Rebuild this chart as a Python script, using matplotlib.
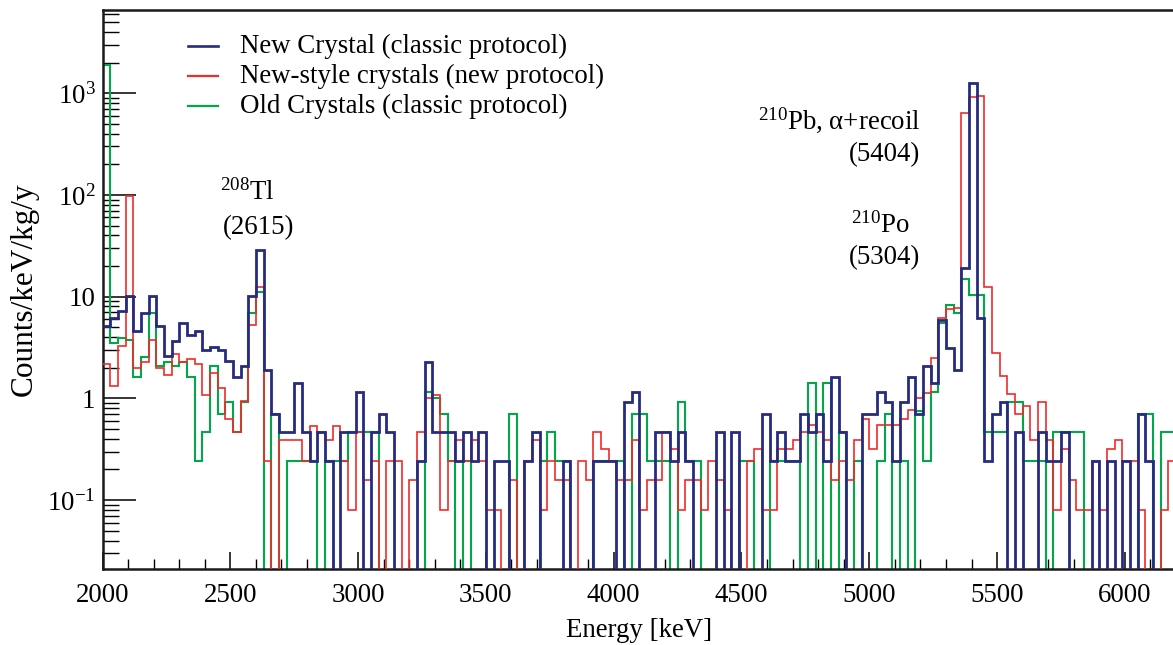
import numpy as np
import matplotlib
matplotlib.use("Agg")
import matplotlib.pyplot as plt
from matplotlib.ticker import FixedLocator, NullFormatter, LogLocator, FixedFormatter

plt.rcParams['font.family'] = ['Liberation Serif', 'DejaVu Serif']
plt.rcParams['mathtext.fontset'] = 'custom'
plt.rcParams['mathtext.rm'] = 'Liberation Serif'
plt.rcParams['mathtext.it'] = 'Liberation Serif:italic'
plt.rcParams['mathtext.bf'] = 'Liberation Serif:bold'
plt.rcParams['mathtext.default'] = 'regular'

# 30 keV bins from 2000 to 6200 keV
energy_edges = np.arange(2000, 6201, 30)

# Rates in counts/keV/kg/y, one value per bin
new_crystal_classic = [
    5.1, 6.2, 7.3, 10.2, 4.6, 6.9, 10.2, 5.1, 2.6, 3.7,
    5.5, 4.2, 4.6, 3.0, 3.2, 3.0, 2.35, 1.63, 2.1, 10.2,
    29, 1.9, 0.70, 0.47, 0.47, 1.4, 0.47, 0.24, 0.47, 0.24,
    0, 0.47, 0.47, 1.16, 0, 0.47, 0.70, 0.47, 0, 0,
    0, 0.24, 2.3, 0.47, 0.47, 0.47, 0.24, 0.47, 0.24, 0.47,
    0, 0.24, 0.24, 0, 0, 0.24, 0.47, 0, 0, 0,
    0.24, 0, 0, 0, 0.24, 0.24, 0.24, 0, 0.93, 1.16,
    0, 0, 0.47, 0.47, 0.24, 0.47, 0.24, 0, 0, 0,
    0.47, 0, 0.47, 0, 0, 0, 0.70, 0.24, 0.47, 0.24,
    0.24, 0.70, 0.47, 0.70, 0.24, 1.63, 0.47, 0, 0, 0.70,
    0.70, 1.16, 0.93, 0.24, 0.93, 1.63, 0.70, 2.1, 1.4, 5.9,
    3.1, 1.9, 19, 1250, 6.1, 0.24, 0.70, 0.93, 0, 0.47,
    0, 0, 0.47, 0.24, 0.24, 0.47, 0, 0, 0, 0.24,
    0, 0.24, 0, 0.24, 0, 0.70, 0.24, 0, 0, 0,
]

new_style_new_protocol = [
    2.16, 1.32, 3.3, 98, 2.0, 2.3, 3.75, 2.0, 1.7, 2.7,
    2.3, 2.45, 2.16, 1.09, 1.76, 1.25, 0.62, 0.47, 0.95, 5.3,
    12.5, 0.24, 0, 0.39, 0.39, 0.39, 0.24, 0.54, 0.47, 0.39,
    0.54, 0.24, 0.08, 0.47, 0.157, 0.24, 0, 0.24, 0.24, 0,
    0.157, 0.47, 1.0, 1.08, 0.08, 0.24, 0.39, 0.24, 0.39, 0.24,
    0.08, 0.08, 0, 0.157, 0, 0.24, 0.39, 0.08, 0.24, 0.157,
    0.157, 0, 0.24, 0.157, 0.47, 0.32, 0.24, 0.157, 0.157, 0.39,
    0.08, 0.157, 0.157, 0.47, 0.32, 0.08, 0.157, 0.157, 0.08, 0.24,
    0.157, 0.08, 0, 0, 0.24, 0.32, 0.08, 0.08, 0.32, 0.32,
    0.39, 0.47, 0.55, 0.47, 0.39, 0.157, 0.24, 0.157, 0.39, 0.62,
    0.32, 0.55, 0.55, 0.55, 0.62, 0.77, 1.0, 1.12, 2.47, 6.2,
    7.5, 7.8, 640, 920, 930, 12.5, 2.8, 1.65, 1.1, 0.70,
    0.84, 0.39, 0.93, 0.39, 0.08, 0.32, 0.157, 0.08, 0.08, 0.24,
    0.08, 0.32, 0.39, 0.24, 0.24, 0.08, 0, 0, 0.08, 0.24,
]

old_crystals_classic = [
    1900, 3.5, 3.9, 3.75, 1.63, 2.57, 6.9, 2.1, 2.3, 2.1,
    2.3, 1.63, 0.24, 0.47, 2.1, 0.70, 0.93, 0.47, 0.93, 6.9,
    11, 0, 0.70, 0, 0.24, 0.24, 0.24, 0.24, 0, 0.24,
    0.24, 0.24, 0.47, 0.47, 0.47, 0.47, 0, 0, 0, 0,
    0, 0, 1.16, 1.0, 0.70, 0.24, 0, 0.24, 0, 0,
    0, 0, 0, 0.70, 0, 0, 0, 0.24, 0.47, 0.24,
    0.24, 0, 0, 0, 0.24, 0.24, 0.24, 0.24, 0, 0.70,
    0.70, 0.24, 0.24, 0.24, 0, 0.93, 0.24, 0.24, 0, 0,
    0, 0, 0, 0.24, 0.24, 0, 0, 0.24, 0.24, 0.24,
    0.24, 0, 1.4, 0, 1.4, 0, 0.47, 0, 0.24, 0,
    0, 0.24, 0.70, 0, 0.24, 0, 0.75, 0.24, 1.16, 5.5,
    8.3, 6.9, 15, 10.4, 10.4, 0.47, 0.47, 0.47, 0.93, 0.93,
    0.24, 0.24, 0.24, 0, 0.47, 0.47, 0.47, 0.47, 0, 0,
    0, 0, 0, 0, 0, 0.70, 0.70, 0, 0.47, 0.47,
]

series_labels = [
    "New Crystal (classic protocol)",
    "New-style crystals (new protocol)",
    "Old Crystals (classic protocol)",
]
series_colors = ["#272b7f", "#f22a2a", "#00a84a"]

W, H = 1173, 645
fig = plt.figure(figsize=(W / 100, H / 100), dpi=100)
ax = fig.add_axes([102.5 / W, (H - 569) / H, (1176 - 102.5) / W, (569 - 10) / H])

y_floor = 1e-4  # empty bins fall below the visible range


def draw(values, color, lw, z):
    v = np.asarray(values, dtype=float)
    v = np.where(v > 0, v, y_floor)
    ax.stairs(v, energy_edges, baseline=None, color=color, lw=lw, zorder=z)


draw(old_crystals_classic, series_colors[2], 1.5, 2)
draw(new_style_new_protocol, series_colors[1], 1.2, 3)
draw(new_crystal_classic, series_colors[0], 2.0, 4)

ax.set_yscale("log")
ax.set_xlim(2000, 6200)
ax.set_ylim(0.021, 6580)

FS = 19.4
ax.xaxis.set_major_locator(FixedLocator(np.arange(2000, 6001, 500)))
ax.xaxis.set_minor_locator(FixedLocator(np.arange(2000, 6201, 100)))
ax.yaxis.set_major_locator(FixedLocator([0.1, 1, 10, 100, 1000]))
ax.yaxis.set_major_formatter(FixedFormatter(["$10^{-1}$", "1", "10", "$10^{2}$", "$10^{3}$"]))
ax.yaxis.set_minor_locator(LogLocator(base=10, subs=np.arange(2, 10), numticks=20))
ax.yaxis.set_minor_formatter(NullFormatter())

ax.tick_params(axis="x", which="major", direction="in", length=12, width=1.1,
               labelsize=FS, pad=10, top=False)
ax.tick_params(axis="x", which="minor", direction="in", length=7, width=1.0, top=False)
ax.tick_params(axis="y", which="major", direction="in", length=23.5, width=1.1,
               labelsize=FS, pad=5, right=False)
ax.tick_params(axis="y", which="minor", direction="in", length=11.5, width=1.0, right=False)

for s in ax.spines.values():
    s.set_linewidth(1.8)
    s.set_color("#1a1a1a")

ax.set_xlabel("Energy [keV]", fontsize=FS, labelpad=7.5)
ax.set_ylabel("Counts/keV/kg/y", fontsize=22.5, labelpad=6)

# Legend drawn as short line samples with labels
for i, (lab, col) in enumerate(zip(series_labels, series_colors)):
    yc = 46 + 30 * i
    fig.add_artist(plt.Line2D([188 / W, 218 / W], [1 - yc / H, 1 - yc / H],
                              color=col, lw=1.6 if i else 1.9))
    fig.text(240 / W, 1 - yc / H, lab, fontsize=FS, va="center", ha="left")

# Peak annotations
fig.text(247 / W, 1 - 192 / H, "$^{208}$Tl", fontsize=FS, ha="center", va="center")
fig.text(259 / W, 1 - 228 / H, "(2615)", fontsize=FS, ha="center", va="center")
fig.text(921 / W, 1 - 120 / H, "$^{210}$Pb, α+recoil", fontsize=FS, ha="right", va="center")
fig.text(884 / W, 1 - 155 / H, "(5404)", fontsize=FS, ha="center", va="center")
fig.text(880 / W, 1 - 225 / H, "$^{210}$Po", fontsize=FS, ha="center", va="center")
fig.text(884 / W, 1 - 258 / H, "(5304)", fontsize=FS, ha="center", va="center")

fig.savefig("out.png", dpi=100)
